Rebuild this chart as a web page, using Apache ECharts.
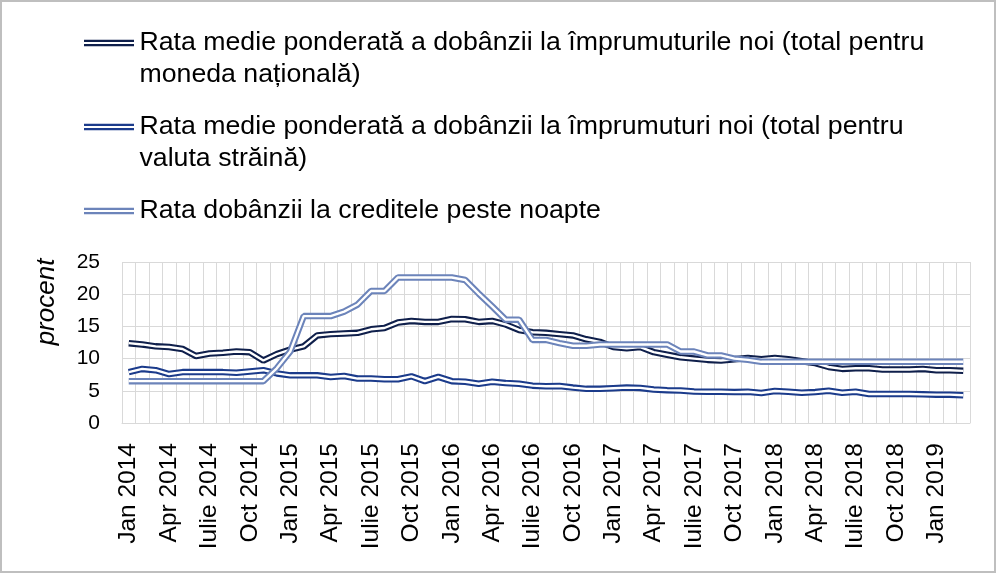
<!DOCTYPE html>
<html><head><meta charset="utf-8">
<script src="https://cdn.jsdelivr.net/npm/echarts@6/dist/echarts.min.js"></script>
<style>html,body{margin:0;padding:0;background:#fff}#c{width:1000px;height:574px}</style>
</head><body><div id="c"></div>
<script>
const monthNames = ['Jan','Feb','Mar','Apr','Mai','Iunie','Iulie','Aug','Sep','Oct','Nov','Dec'];
const years = [2014, 2015, 2016, 2017, 2018, 2019];
const categories = [];
years.forEach(function (y) { monthNames.forEach(function (m) { categories.push(m + ' ' + y); }); });
categories.length = 63; // Jan 2014 .. Mar 2019

const seriesNames = [
  'Rata medie ponderată a dobânzii la împrumuturile noi (total pentru moneda națională)',
  'Rata medie ponderată a dobânzii la împrumuturi noi (total pentru valuta străină)',
  'Rata dobânzii la creditele peste noapte'
];
const legendLines = [
  ['Rata medie ponderată a dobânzii la împrumuturile noi (total pentru', 'moneda națională)'],
  ['Rata medie ponderată a dobânzii la împrumuturi noi (total pentru', 'valuta străină)'],
  ['Rata dobânzii la creditele peste noapte']
];

const nationalRate = [
  12.4, 12.2, 11.9, 11.8, 11.5, 10.4, 10.8, 10.9, 11.1, 11.0, 9.7, 10.7,
  11.4, 11.9, 13.6, 13.8, 13.9, 14.0, 14.55, 14.75, 15.6, 15.85, 15.7, 15.7,
  16.15, 16.1, 15.7, 15.85, 15.3, 14.45, 14.1, 14.0, 13.8, 13.6, 13.0, 12.6,
  11.8, 11.6, 11.8, 11.0, 10.6, 10.2, 10.0, 9.8, 9.7, 9.9, 10.1, 9.9,
  10.1, 9.9, 9.6, 9.3, 8.7, 8.4, 8.5, 8.5, 8.3, 8.3, 8.3, 8.4,
  8.2, 8.2, 8.1
];
const foreignRate = [
  7.9, 8.4, 8.2, 7.6, 7.9, 7.9, 7.9, 7.9, 7.8, 8.0, 8.2, 7.7,
  7.4, 7.4, 7.4, 7.15, 7.3, 6.9, 6.9, 6.8, 6.8, 7.25, 6.5, 7.15,
  6.5, 6.4, 6.1, 6.4, 6.2, 6.1, 5.8, 5.7, 5.75, 5.5, 5.3, 5.3,
  5.4, 5.5, 5.45, 5.2, 5.1, 5.05, 4.9, 4.85, 4.85, 4.8, 4.85, 4.65,
  4.97, 4.86, 4.7, 4.8, 5.0, 4.7, 4.86, 4.5, 4.5, 4.5, 4.5, 4.45,
  4.4, 4.4, 4.3
];
const overnightRate = [
  6.5, 6.5, 6.5, 6.5, 6.5, 6.5, 6.5, 6.5, 6.5, 6.5, 6.5, 8.5,
  11.1, 16.6, 16.6, 16.6, 17.3, 18.4, 20.5, 20.5, 22.6, 22.6, 22.6, 22.6,
  22.6, 22.2, 20.1, 18.1, 16.05, 16.05, 12.9, 12.9, 12.4, 12.0, 12.0, 12.2,
  12.2, 12.2, 12.2, 12.2, 12.2, 11.1, 11.1, 10.5, 10.5, 10.0, 9.8, 9.5,
  9.5, 9.5, 9.5, 9.5, 9.5, 9.5, 9.5, 9.5, 9.5, 9.5, 9.5, 9.5,
  9.5, 9.5, 9.5
];
const yMin = 0, yMax = 25, yStep = 5;

const colors = ['#0f1f4b', '#1b3b8b', '#6c84ba'];
const FONT = '"Liberation Sans", Arial, sans-serif';
const allData = [nationalRate, foreignRate, overnightRate];

const series = [];
allData.forEach(function (d, i) {
  series.push({
    type: 'line', name: seriesNames[i], data: d, symbol: 'none', silent: true,
    color: colors[i], lineStyle: { color: colors[i], width: 6.5 }, z: 2
  });
  series.push({
    type: 'line', name: seriesNames[i] + ' (inner)', data: d, symbol: 'none', silent: true,
    lineStyle: { color: '#ffffff', width: 2.4 }, z: 2
  });
});

const iconPath = 'path://M0,0H50V2.2H0Z M0,4.4H50V6.6H0Z';
function legendFor(i, top) {
  const lines = legendLines[i];
  // with two lines, a blank leading line keeps the icon level with the first text line
  const txt = lines.length > 1 ? ' \n' + lines.join('\n') : lines[0];
  return {
    show: true, orient: 'vertical', left: 84, top: top, padding: 0,
    itemWidth: 51, itemHeight: 6.6, icon: iconPath,
    data: [seriesNames[i]], selectedMode: false,
    formatter: function () { return txt; },
    textStyle: { fontFamily: FONT, fontSize: 26.7, lineHeight: 32, color: '#000' }
  };
}

const chart = echarts.init(document.getElementById('c'), null, { renderer: 'canvas' });
chart.setOption({
  animation: false,
  backgroundColor: '#ffffff',
  grid: { left: 122, right: 30, top: 262, bottom: 151, containLabel: false },
  legend: [legendFor(0, -5), legendFor(1, 79), legendFor(2, 195)],
  xAxis: {
    type: 'category', data: categories, boundaryGap: true,
    axisLine: { show: true, lineStyle: { color: '#d9d9d9', width: 1 } },
    axisTick: { show: false },
    axisLabel: { interval: 2, rotate: 90, margin: 20, fontFamily: FONT, fontSize: 24.5, color: '#000' },
    splitLine: { show: true, interval: 0, lineStyle: { color: '#d9d9d9', width: 1 } }
  },
  yAxis: {
    type: 'value', min: yMin, max: yMax, interval: yStep,
    axisLine: { show: false }, axisTick: { show: false },
    axisLabel: { margin: 22, fontFamily: FONT, fontSize: 21, color: '#000' },
    splitLine: { show: true, lineStyle: { color: '#d9d9d9', width: 1 } }
  },
  graphic: [
    { type: 'rect', silent: true, shape: { x: 1, y: 1, width: 994, height: 571 },
      style: { fill: 'none', stroke: '#bfbfbf', lineWidth: 2 } },
    { type: 'text', silent: true, x: 47, y: 302, rotation: Math.PI / 2,
      style: { text: 'procent', fontFamily: FONT, fontStyle: 'italic', fontSize: 26, fill: '#000',
        align: 'center', verticalAlign: 'middle' } }
  ],
  series: series
});
</script>
</body></html>
